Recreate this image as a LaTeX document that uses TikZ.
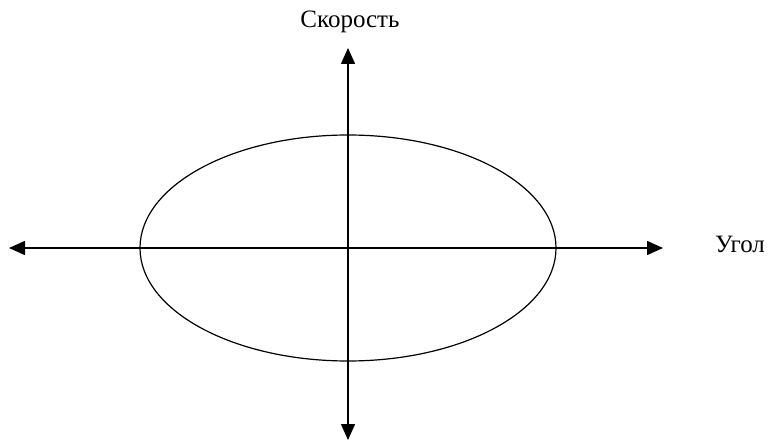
\documentclass[tikz,border=0pt]{standalone}
\usepackage{fontspec}
\setmainfont{Liberation Serif}
\usetikzlibrary{arrows.meta}
\begin{document}
\begin{tikzpicture}[x=1pt,y=-1pt,
  axis/.style={line width=1.5pt,{Triangle[length=16pt,width=14pt]}-{Triangle[length=16pt,width=14pt]}},
  curve/.style={line width=1.2pt},
  lbl/.style={font=\fontsize{25}{29}\selectfont, inner sep=0pt}]
\useasboundingbox (0,0) rectangle (772,441);
\coordinate (O) at (348,248);
\coordinate (L) at (9,248);
\coordinate (R) at (663,248);
\coordinate (T) at (348,48);
\coordinate (B) at (348,440);
\draw[axis] (L) -- (R);
\draw[axis] (B) -- (T);
\draw[curve] (O) ellipse [x radius=208, y radius=113];
\node[lbl] (vel) at (350,22) {Скорость};
\node[lbl] (ang) at (740,244) {Угол};
\end{tikzpicture}
\end{document}
